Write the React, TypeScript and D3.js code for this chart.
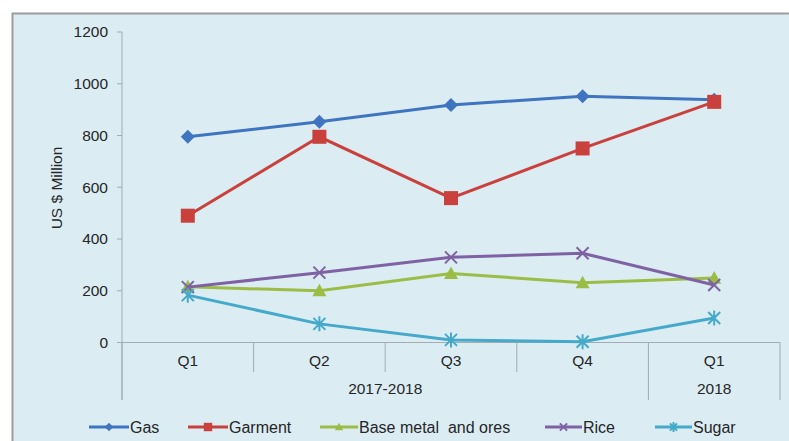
import React from "react";
import * as d3 from "d3";

const categories = ["Q1", "Q2", "Q3", "Q4", "Q1"];
const groups = [
  { label: "2017-2018", start: 0, end: 4 },
  { label: "2018", start: 4, end: 5 },
];
const yTicks = [0, 200, 400, 600, 800, 1000, 1200];

const gas = [795, 853, 918, 952, 938];
const garment = [490, 795, 558, 750, 930];
const baseMetal = [215, 200, 267, 231, 249];
const rice = [214, 270, 329, 345, 222];
const sugar = [183, 72, 10, 3, 95];

const series = [
  { name: "Gas", values: gas, color: "#3f74c0", marker: "diamond" },
  { name: "Garment", values: garment, color: "#c9403c", marker: "square" },
  { name: "Base metal  and ores", values: baseMetal, color: "#9cbd45", marker: "triangle" },
  { name: "Rice", values: rice, color: "#7f62a3", marker: "x" },
  { name: "Sugar", values: sugar, color: "#45a9c9", marker: "star" },
];

const W = 789;
const H = 441;
const left = 122;
const right = 780;
const top = 32;
const bottom = 342.5;

function Marker({ type, x, y, color, s = 1 }: any) {
  if (type === "diamond") {
    const r = 7 * s;
    return <path d={`M${x},${y - r}L${x + r},${y}L${x},${y + r}L${x - r},${y}Z`} fill={color} />;
  }
  if (type === "square") {
    const r = 7 * s;
    return <rect x={x - r} y={y - r} width={2 * r} height={2 * r} fill={color} />;
  }
  if (type === "triangle") {
    const r = 7 * s;
    return <path d={`M${x},${y - r}L${x + r},${y + r * 0.8}L${x - r},${y + r * 0.8}Z`} fill={color} />;
  }
  if (type === "x") {
    const r = 6 * s;
    return (
      <path d={`M${x - r},${y - r}L${x + r},${y + r}M${x - r},${y + r}L${x + r},${y - r}`} stroke={color} strokeWidth={2} />
    );
  }
  const r = 6 * s;
  return (
    <path
      d={`M${x - r},${y - r}L${x + r},${y + r}M${x - r},${y + r}L${x + r},${y - r}M${x},${y - r - 1.5}L${x},${y + r + 1.5}`}
      stroke={color}
      strokeWidth={2}
    />
  );
}

export default function App() {
  const x = d3.scaleBand<number>().domain(d3.range(categories.length)).range([left, right]).padding(0);
  const y = d3.scaleLinear().domain([0, 1200]).range([bottom, top]);
  const line = d3
    .line<number>()
    .x((_, i) => (x(i) as number) + x.bandwidth() / 2)
    .y((d) => y(d));
  const font = "'Liberation Sans', Arial, sans-serif";
  const axisColor = "#a3abb3";
  const textColor = "#262626";

  const legendItems = [
    { lx: 89, tx: 130 },
    { lx: 188, tx: 229 },
    { lx: 320, tx: 359 },
    { lx: 545, tx: 583 },
    { lx: 655, tx: 693 },
  ];

  return (
    <svg width={W} height={H} style={{ position: "absolute", left: 0, top: 0 }} fontFamily={font}>
      <rect x={0} y={0} width={W} height={H} fill="#ffffff" />
      <rect x={12.5} y={13.5} width={900} height={600} fill="#dbecf3" stroke="#9c9c9c" strokeWidth={2} />
      {/* y axis */}
      <line x1={left} x2={left} y1={top} y2={400} stroke={axisColor} strokeWidth={1} />
      {yTicks.map((t) => (
        <g key={t}>
          <line x1={117} x2={left} y1={y(t)} y2={y(t)} stroke={axisColor} />
          <text x={108} y={y(t)} dy="0.35em" textAnchor="end" fontSize={15.5} fill={textColor}>
            {t}
          </text>
        </g>
      ))}
      <text
        transform={`translate(57,${188}) rotate(-90)`}
        textAnchor="middle"
        dy="0.35em"
        fontSize={15.5}
        fill={textColor}
      >
        US $ Million
      </text>
      {/* x axis */}
      <line x1={left} x2={right} y1={bottom} y2={bottom} stroke={axisColor} />
      {d3.range(categories.length + 1).map((i) => {
        const xx = i < categories.length ? (x(i) as number) : right;
        const isGroup = groups.some((g) => g.start === i || g.end === i);
        return (
          <line key={i} x1={xx} x2={xx} y1={bottom} y2={isGroup ? 400 : 372} stroke={axisColor} />
        );
      })}
      {categories.map((c, i) => (
        <text
          key={i}
          x={(x(i) as number) + x.bandwidth() / 2}
          y={361}
          dy="0.35em"
          textAnchor="middle"
          fontSize={15.5}
          fill={textColor}
        >
          {c}
        </text>
      ))}
      {groups.map((g) => (
        <text
          key={g.label}
          x={((x(g.start) as number) + (g.end < categories.length ? (x(g.end) as number) : right)) / 2}
          y={389}
          dy="0.35em"
          textAnchor="middle"
          fontSize={15.5}
          fill={textColor}
        >
          {g.label}
        </text>
      ))}
      {/* series */}
      {series.map((s) => (
        <g key={s.name}>
          <path d={line(s.values) as string} fill="none" stroke={s.color} strokeWidth={3} />
          {s.values.map((v, i) => (
            <Marker key={i} type={s.marker} x={(x(i) as number) + x.bandwidth() / 2} y={y(v)} color={s.color} />
          ))}
        </g>
      ))}
      {/* legend */}
      {series.map((s, i) => {
        const it = legendItems[i];
        const ly = 427;
        return (
          <g key={s.name}>
            <line x1={it.lx} x2={it.tx - 1} y1={ly} y2={ly} stroke={s.color} strokeWidth={3} />
            <Marker type={s.marker} x={(it.lx + it.tx - 1) / 2} y={ly} color={s.color} s={0.6} />
            <text x={it.tx} y={ly} dy="0.35em" fontSize={16} fill={textColor} style={{ whiteSpace: "pre" }}>
              {s.name}
            </text>
          </g>
        );
      })}
    </svg>
  );
}
